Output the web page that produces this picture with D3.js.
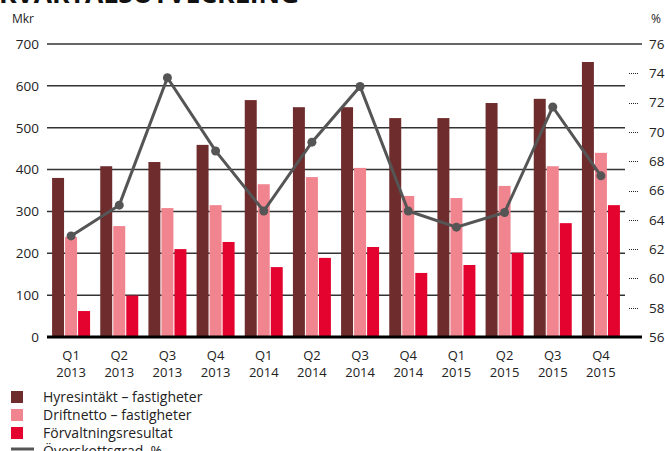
<!DOCTYPE html>
<html lang="sv">
<head>
<meta charset="UTF-8">
<title>Kvartalsutveckling</title>
<style>
  body { margin: 0; background: #fff; }
  svg text { font-family: "Open Sans", sans-serif; fill: #222; }
</style>
</head>
<body>
<div id="chart"></div>
<script src="https://cdnjs.cloudflare.com/ajax/libs/d3/7.8.5/d3.min.js"></script>
<script>
// kvartal
var quarters = ['Q1', 'Q2', 'Q3', 'Q4', 'Q1', 'Q2', 'Q3', 'Q4', 'Q1', 'Q2', 'Q3', 'Q4'];
var years = ['2013', '2013', '2013', '2013', '2014', '2014', '2014', '2014', '2015', '2015', '2015', '2015'];

// Mkr
var hyresintakt = [380, 408, 418, 459, 566, 549, 549, 523, 523, 559, 569, 657];
var driftnetto = [239, 265, 308, 315, 365, 382, 404, 337, 332, 361, 408, 440];
var forvaltning = [62, 99, 210, 227, 167, 189, 215, 153, 172, 201, 272, 315];

// %
var overskott = [62.9, 65.0, 73.7, 68.7, 64.6, 69.3, 73.1, 64.6, 63.5, 64.5, 71.7, 67.0];

var leftTicks = [0, 100, 200, 300, 400, 500, 600, 700];
var rightTicks = [56, 58, 60, 62, 64, 66, 68, 70, 72, 74, 76];

var seriesNames = ['Hyresintäkt – fastigheter', 'Driftnetto – fastigheter', 'Förvaltningsresultat'];
var seriesData = [hyresintakt, driftnetto, forvaltning];
var colors = ['#6e2c2d', '#f0848f', '#e4032e'];
var lineColor = '#555555';

var width = 665, height = 451;
var svg = d3.select('#chart').append('svg')
            .attr('width', width)
            .attr('height', height);

// titel (avskuren överst)
svg.append('text')
   .attr('x', -1)
   .attr('y', 3)
   .style('font-size', '26.5px')
   .style('font-weight', 'bold')
   .style('fill', '#111')
   .text('KVARTALSUTVECKLING');

var idx = d3.range(quarters.length);
var x0 = d3.scaleBand().domain(idx).range([47, 625]);
var x1 = d3.scaleBand().domain([0, 1, 2]).range([0, 38]).paddingInner(0.08);
var groupOffset = (x0.bandwidth() - 38) / 2;

var y = d3.scaleLinear().domain([0, 700]).range([337, 44]);
var yR = d3.scaleLinear().domain([56, 76]).range([337, 44]);

// enhet
svg.append('text').attr('x', 12).attr('y', 23).style('font-size', '12px').text('Mkr');
svg.append('text').attr('x', 651).attr('y', 23).style('font-size', '12px').text('%');

// stödlinjer
svg.append('g').selectAll('line')
   .data(leftTicks.filter(function (d) { return d > 0; }))
   .enter().append('line')
   .attr('x1', 47)
   .attr('x2', function (d) { return d === 700 ? 642 : 625; })
   .attr('y1', function (d) { return y(d); })
   .attr('y2', function (d) { return y(d); })
   .style('stroke', '#333')
   .style('stroke-width', 1.5);

// vänster axel
var yAxis = d3.axisLeft(y).tickValues(leftTicks).tickSize(0).tickPadding(0);
svg.append('g')
   .attr('transform', 'translate(39, 0)')
   .call(yAxis)
   .call(function (g) {
       g.select('.domain').remove();
       g.selectAll('text').style('font-size', '13.5px').style('font-family', '"Open Sans", sans-serif').attr('fill', '#222');
   });

// höger axel
var yAxisR = d3.axisRight(yR).tickValues(rightTicks).tickSize(0).tickPadding(0);
svg.append('g')
   .attr('transform', 'translate(649, 0)')
   .call(yAxisR)
   .call(function (g) {
       g.select('.domain').remove();
       g.selectAll('text').style('font-size', '13.5px').style('font-family', '"Open Sans", sans-serif').attr('fill', '#222');
   });

// prickade streck vid höger axel
svg.append('g').selectAll('line')
   .data(rightTicks.filter(function (d) { return d > 56 && d < 76; }))
   .enter().append('line')
   .attr('x1', 629).attr('x2', 638)
   .attr('y1', function (d) { return Math.round(yR(d)) + 0.5; })
   .attr('y2', function (d) { return Math.round(yR(d)) + 0.5; })
   .style('stroke', '#222')
   .style('stroke-width', 1)
   .style('stroke-dasharray', '1,1');

// staplar
var groups = svg.append('g').selectAll('g')
   .data(idx)
   .enter().append('g')
   .attr('transform', function (i) { return 'translate(' + (x0(i) + groupOffset) + ',0)'; });

groups.selectAll('rect')
   .data(function (i) { return seriesData.map(function (s, k) { return { k: k, v: s[i] }; }); })
   .enter().append('rect')
   .attr('x', function (d) { return x1(d.k); })
   .attr('width', x1.bandwidth())
   .attr('y', function (d) { return y(d.v); })
   .attr('height', function (d) { return y(0) - y(d.v); })
   .style('fill', function (d) { return colors[d.k]; });

// nollinje
svg.append('line')
   .attr('x1', 47).attr('x2', 642)
   .attr('y1', y(0)).attr('y2', y(0))
   .style('stroke', '#000')
   .style('stroke-width', 3);

// x-etiketter
var xl = svg.append('g').selectAll('text')
   .data(idx)
   .enter().append('text')
   .attr('text-anchor', 'middle')
   .attr('x', function (i) { return x0(i) + x0.bandwidth() / 2; })
   .attr('y', 360)
   .style('font-size', '13px');
xl.append('tspan').attr('x', function (i) { return x0(i) + x0.bandwidth() / 2; }).text(function (i) { return quarters[i]; });
xl.append('tspan').attr('x', function (i) { return x0(i) + x0.bandwidth() / 2; }).attr('dy', 17).text(function (i) { return years[i]; });

// överskottsgrad
var line = d3.line()
   .x(function (d, i) { return x0(i) + x0.bandwidth() / 2; })
   .y(function (d) { return yR(d); });

svg.append('path')
   .datum(overskott)
   .attr('d', line)
   .style('fill', 'none')
   .style('stroke', lineColor)
   .style('stroke-width', 3);

svg.append('g').selectAll('circle')
   .data(overskott)
   .enter().append('circle')
   .attr('cx', function (d, i) { return x0(i) + x0.bandwidth() / 2; })
   .attr('cy', function (d) { return yR(d); })
   .attr('r', 4.5)
   .style('fill', lineColor);

// förklaring
var legend = svg.append('g');
seriesNames.forEach(function (name, k) {
    var ly = 391 + k * 18;
    legend.append('rect').attr('x', 11).attr('y', ly).attr('width', 12).attr('height', 12).style('fill', colors[k]);
    legend.append('text').attr('x', 43).attr('y', ly + 11).style('font-size', '14px').text(name);
});
legend.append('line').attr('x1', 11).attr('x2', 34).attr('y1', 449).attr('y2', 449)
      .style('stroke', lineColor).style('stroke-width', 3);
legend.append('text').attr('x', 43).attr('y', 456).style('font-size', '14px').text('Överskottsgrad, %');
</script>
</body>
</html>
